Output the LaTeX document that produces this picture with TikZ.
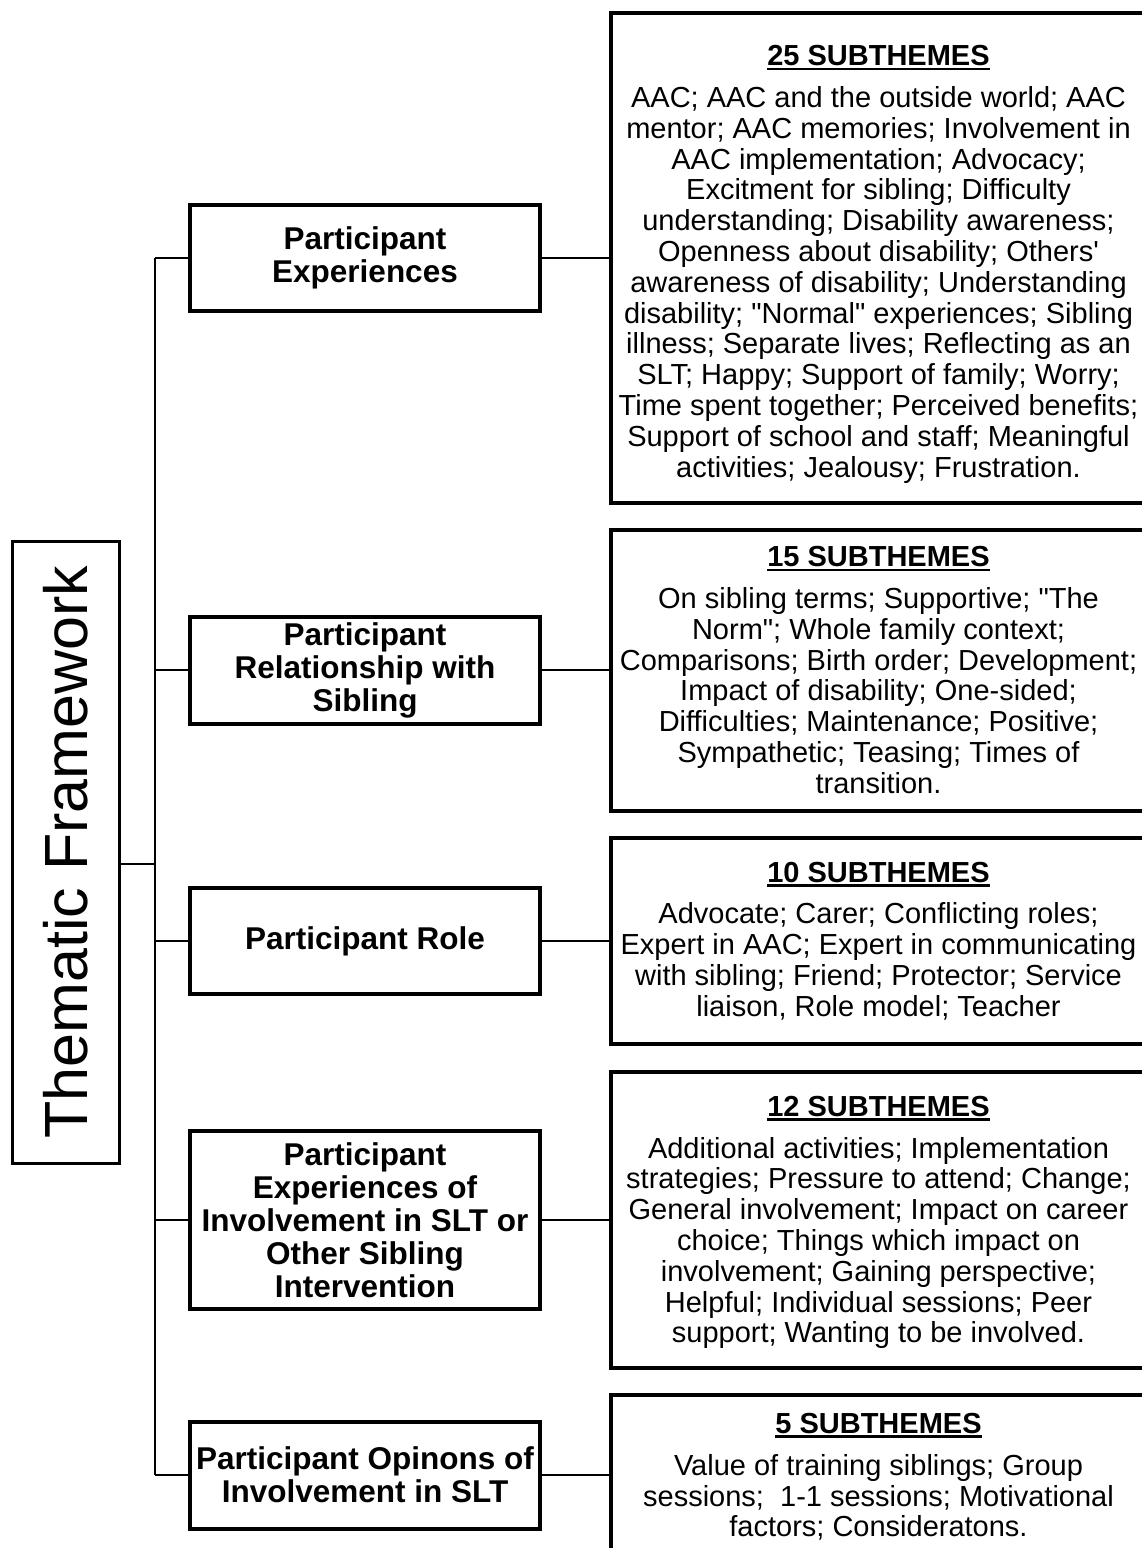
\documentclass[tikz,border=0pt]{standalone}
\usepackage{fontspec}
\setmainfont{Liberation Sans}
% bold heading with a heavy underline
\newcommand{\subhead}[1]{\sbox0{\bfseries #1}\rlap{\rule[-4.5pt]{\wd0}{2.6pt}}\usebox0}
\begin{document}
\begin{tikzpicture}[x=1pt,y=-1pt,
  frame/.style={draw, line width=3pt, rotate=90, minimum width=622pt, minimum height=107pt,
    inner sep=0pt, font=\fontsize{61}{61}\selectfont},
  theme/.style={draw, line width=4pt, align=center, minimum width=350pt, inner sep=0pt,
    font=\bfseries\fontsize{31.5}{33}\selectfont},
  detail/.style={draw, line width=4pt, align=center, minimum width=535pt, inner sep=0pt,
    font=\fontsize{29}{30.8}\selectfont},
  link/.style={line width=2.2pt}]
\useasboundingbox (0,0) rectangle (1142,1548);

% root
\node[frame] (tf) at (65.5,852) {Thematic Framework};

% main themes
\node[theme, minimum height=106pt] (p1) at (365,258) {Participant\\Experiences};
\node[theme, minimum height=107pt] (p2) at (365,670) {Participant\\Relationship with\\Sibling};
\node[theme, minimum height=106pt] (p3) at (365,941) {Participant Role};
\node[theme, minimum height=178pt] (p4) at (365,1220) {Participant\\Experiences of\\Involvement in SLT or\\Other Sibling\\Intervention};
\node[theme, minimum height=107pt] (p5) at (365,1475) {Participant Opinons of\\Involvement in SLT};

% subtheme lists
\node[detail, minimum height=490pt] (s1) at (878.5,258) {\rule{0pt}{33pt}\subhead{25 SUBTHEMES}\\[11pt]
AAC; AAC and the outside world; AAC\\
mentor; AAC memories; Involvement in\\
AAC implementation; Advocacy;\\
Excitment for sibling; Difficulty\\
understanding; Disability awareness;\\
Openness about disability; Others\textquotesingle\\
awareness of disability; Understanding\\
disability; \textquotedbl Normal\textquotedbl{} experiences; Sibling\\
illness; Separate lives; Reflecting as an\\
SLT; Happy; Support of family; Worry;\\
Time spent together; Perceived benefits;\\
Support of school and staff; Meaningful\\
activities; Jealousy; Frustration.};
\node[detail, minimum height=281pt] (s2) at (878.5,670) {\subhead{15 SUBTHEMES}\\[11pt]
On sibling terms; Supportive; \textquotedbl The\\
Norm\textquotedbl; Whole family context;\\
Comparisons; Birth order; Development;\\
Impact of disability; One-sided;\\
Difficulties; Maintenance; Positive;\\
Sympathetic; Teasing; Times of\\
transition.};
\node[detail, minimum height=206pt] (s3) at (878.5,941) {\subhead{10 SUBTHEMES}\\[11pt]
Advocate; Carer; Conflicting roles;\\
Expert in AAC; Expert in communicating\\
with sibling; Friend; Protector; Service\\
liaison, Role model; Teacher};
\node[detail, minimum height=296pt] (s4) at (878.5,1220) {\rule{0pt}{25pt}\subhead{12 SUBTHEMES}\\[11pt]
Additional activities; Implementation\\
strategies; Pressure to attend; Change;\\
General involvement; Impact on career\\
choice; Things which impact on\\
involvement; Gaining perspective;\\
Helpful; Individual sessions; Peer\\
support; Wanting to be involved.};
\node[detail, minimum height=160pt] (s5) at (878.5,1475) {\rule{0pt}{24pt}\subhead{5 SUBTHEMES}\\[11pt]
Value of training siblings; Group\\
sessions;\ \ 1-1 sessions; Motivational\\
factors; Consideratons.};

% trunk
\coordinate (ttop) at (155,258);
\coordinate (tbot) at (155,1475);
\draw[link] (ttop) -- (tbot);
\draw[link] ([yshift=-12pt]tf.south) -- ([yshift=-12pt]tf.south -| ttop);

% branches
\foreach \i in {1,...,5} {
  \draw[link] (p\i.west -| ttop) -- (p\i.west);
  \draw[link] (p\i.east) -- (s\i.west);
}
\end{tikzpicture}
\end{document}
